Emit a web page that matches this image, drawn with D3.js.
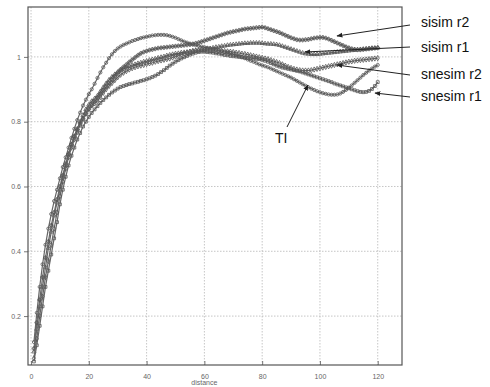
<!DOCTYPE html>
<html>
<head>
<meta charset="utf-8">
<script src="https://cdn.jsdelivr.net/npm/d3@7"></script>
<style>
  html, body { margin: 0; padding: 0; background: #fff; }
  svg { display: block; font-family: "Liberation Sans", Arial, sans-serif; }
</style>
</head>
<body>
<div id="chart"></div>
<script>
// lag distances
const lags = [1,2,3,4,5,6,7,8,9,10,11,12,13,14,15,16,17,18,19,20,
  21,22,23,24,25,26,27,28,29,30,31,32,33,34,35,36,37,38,39,40,
  41,42,43,44,45,46,47,48,49,50,51,52,53,54,55,56,57,58,59,60,
  61,62,63,64,65,66,67,68,69,70,71,72,73,74,75,76,77,78,79,80,
  81,82,83,84,85,86,87,88,89,90,91,92,93,94,95,96,97,98,99,100,
  101,102,103,104,105,106,107,108,109,110,111,112,113,114,115,116,117,118,119,120];

const ti = [0.12,0.21,0.29,0.36,0.42,0.47,0.515,0.555,0.59,0.625,0.66,0.69,0.72,0.75,0.778,0.805,0.828,0.85,0.868,0.885,
  0.90,0.917,0.935,0.952,0.968,0.982,0.996,1.008,1.018,1.026,1.032,1.037,1.041,1.045,1.049,1.052,1.055,1.058,1.06,1.062,
  1.064,1.066,1.067,1.068,1.068,1.068,1.067,1.065,1.062,1.059,1.055,1.051,1.047,1.044,1.041,1.038,1.036,1.034,1.032,1.03,
  1.028,1.026,1.024,1.022,1.02,1.018,1.015,1.013,1.011,1.008,1.005,1.002,0.999,0.996,0.992,0.988,0.985,0.981,0.977,0.974,
  0.971,0.968,0.964,0.96,0.956,0.952,0.948,0.944,0.94,0.936,0.931,0.926,0.921,0.916,0.911,0.906,0.902,0.898,0.894,0.891,
  0.888,0.886,0.884,0.883,0.883,0.884,0.887,0.892,0.898,0.905,0.912,0.92,0.928,0.936,0.944,0.951,0.958,0.964,0.97,0.975];

const sisimR2 = [0.10,0.18,0.25,0.32,0.38,0.43,0.48,0.52,0.56,0.60,0.635,0.67,0.70,0.73,0.755,0.775,0.795,0.81,0.825,0.838,
  0.85,0.862,0.874,0.886,0.897,0.908,0.919,0.93,0.941,0.951,0.961,0.969,0.976,0.984,0.991,0.998,1.005,1.011,1.015,1.018,
  1.021,1.023,1.025,1.027,1.028,1.029,1.03,1.031,1.032,1.033,1.034,1.035,1.036,1.037,1.038,1.04,1.042,1.044,1.047,1.05,
  1.053,1.056,1.059,1.062,1.065,1.068,1.071,1.074,1.076,1.078,1.08,1.082,1.084,1.086,1.087,1.088,1.089,1.09,1.091,1.092,
  1.09,1.087,1.084,1.081,1.078,1.075,1.071,1.067,1.063,1.059,1.056,1.053,1.052,1.052,1.053,1.054,1.056,1.058,1.059,1.06,
  1.06,1.058,1.055,1.051,1.047,1.043,1.039,1.035,1.031,1.028,1.025,1.023,1.022,1.022,1.023,1.024,1.025,1.026,1.027,1.028];

const sisimR1 = [0.09,0.16,0.23,0.29,0.35,0.41,0.46,0.51,0.55,0.59,0.63,0.665,0.70,0.73,0.755,0.778,0.80,0.82,0.838,0.852,
  0.863,0.871,0.88,0.893,0.906,0.918,0.929,0.938,0.946,0.953,0.959,0.963,0.967,0.971,0.975,0.977,0.98,0.982,0.985,0.987,
  0.99,0.992,0.994,0.997,0.999,1.001,1.004,1.006,1.008,1.01,1.011,1.013,1.014,1.015,1.016,1.018,1.019,1.02,1.022,1.023,
  1.025,1.026,1.028,1.03,1.031,1.033,1.034,1.036,1.037,1.038,1.039,1.04,1.041,1.042,1.042,1.043,1.043,1.043,1.043,1.042,
  1.041,1.04,1.04,1.039,1.038,1.036,1.033,1.03,1.027,1.024,1.021,1.018,1.015,1.012,1.01,1.009,1.008,1.008,1.008,1.009,
  1.01,1.011,1.012,1.013,1.014,1.015,1.016,1.017,1.018,1.019,1.02,1.021,1.022,1.023,1.024,1.025,1.026,1.027,1.027,1.028];

const snesimR2 = [0.07,0.13,0.20,0.26,0.32,0.37,0.42,0.47,0.52,0.57,0.615,0.655,0.69,0.72,0.745,0.768,0.79,0.808,0.825,0.84,
  0.85,0.857,0.864,0.876,0.889,0.9,0.91,0.919,0.928,0.937,0.945,0.951,0.956,0.961,0.965,0.968,0.971,0.973,0.975,0.978,
  0.98,0.982,0.985,0.987,0.989,0.991,0.993,0.995,0.998,1.001,1.004,1.007,1.01,1.013,1.016,1.018,1.02,1.021,1.022,1.022,
  1.022,1.022,1.021,1.021,1.02,1.019,1.018,1.017,1.016,1.015,1.013,1.012,1.01,1.009,1.007,1.005,1.003,1.001,0.999,0.997,
  0.995,0.993,0.99,0.987,0.984,0.981,0.977,0.973,0.969,0.966,0.963,0.961,0.959,0.958,0.958,0.958,0.959,0.961,0.963,0.965,
  0.967,0.969,0.971,0.973,0.975,0.977,0.979,0.981,0.983,0.985,0.986,0.988,0.989,0.99,0.991,0.992,0.993,0.994,0.995,0.996];

const snesimR1 = [0.06,0.11,0.17,0.23,0.29,0.34,0.39,0.44,0.49,0.545,0.59,0.63,0.665,0.695,0.72,0.745,0.765,0.785,0.80,0.815,
  0.827,0.838,0.848,0.858,0.867,0.875,0.883,0.89,0.896,0.902,0.907,0.91,0.913,0.916,0.918,0.921,0.923,0.926,0.928,0.931,
  0.934,0.938,0.942,0.947,0.953,0.959,0.966,0.973,0.979,0.985,0.99,0.995,0.999,1.003,1.007,1.01,1.013,1.015,1.016,1.016,
  1.015,1.014,1.013,1.011,1.01,1.008,1.006,1.005,1.003,1.002,1.001,1.0,0.999,0.998,0.997,0.996,0.995,0.994,0.993,0.991,
  0.988,0.985,0.981,0.977,0.973,0.97,0.967,0.965,0.963,0.961,0.959,0.957,0.955,0.952,0.949,0.946,0.943,0.94,0.937,0.934,
  0.931,0.928,0.925,0.922,0.918,0.915,0.912,0.909,0.906,0.903,0.9,0.897,0.894,0.892,0.891,0.892,0.895,0.901,0.91,0.922];

const xTicks = [0, 20, 40, 60, 80, 100, 120];
const yTicks = [0.2, 0.4, 0.6, 0.8, 1];

const W = 490, H = 387;
const margin = { top: 7, right: 88, bottom: 22, left: 28 };
const width = W - margin.left - margin.right,
  height = H - margin.top - margin.bottom;

const svg = d3.select("#chart").append("svg")
  .attr("width", W)
  .attr("height", H);

const g = svg.append("g")
  .attr("transform", "translate(" + margin.left + "," + margin.top + ")");

const x = d3.scaleLinear().domain([-1.05, 128.4]).range([0, width]);
const y = d3.scaleLinear().domain([0.049, 1.154]).range([height, 0]);

// grid
g.append("g").selectAll("line")
  .data(xTicks).enter().append("line")
  .attr("x1", d => x(d)).attr("x2", d => x(d))
  .attr("y1", 0).attr("y2", height)
  .attr("stroke", "#b8b8b8").attr("stroke-width", 0.8)
  .attr("stroke-dasharray", "1.5,1.5");
g.append("g").selectAll("line")
  .data(yTicks).enter().append("line")
  .attr("x1", 0).attr("x2", width)
  .attr("y1", d => y(d)).attr("y2", d => y(d))
  .attr("stroke", "#b8b8b8").attr("stroke-width", 0.8)
  .attr("stroke-dasharray", "1.5,1.5");

// axes
const xMinor = d3.range(0, 126, 5);
const yMinor = d3.range(0.05, 1.151, 0.05);

const xAxis = g.append("g").attr("transform", `translate(0,${height})`);
xAxis.call(d3.axisBottom(x).tickValues(xMinor).tickSize(-3).tickFormat(""));
xAxis.call(d3.axisBottom(x).tickValues(xTicks).tickSize(-4).tickPadding(9).tickFormat(d3.format("d")));
xAxis.selectAll(".domain").remove();

const yAxis = g.append("g");
yAxis.call(d3.axisLeft(y).tickValues(yMinor).tickSize(2).tickFormat(""));
yAxis.call(d3.axisLeft(y).tickValues(yTicks).tickSize(4).tickPadding(3).tickFormat(d => d === 1 ? "1" : d3.format(".1f")(d)));
yAxis.selectAll(".domain").remove();

svg.selectAll(".tick line").attr("stroke", "#555").attr("stroke-width", 0.8);
svg.selectAll(".tick text").attr("fill", "#666").attr("font-size", 7);

g.append("text")
  .attr("x", x(60)).attr("y", height + 20)
  .attr("text-anchor", "middle")
  .attr("font-size", 7).attr("fill", "#666")
  .text("distance");

// frame
g.append("rect")
  .attr("x", 0).attr("y", 0)
  .attr("width", width).attr("height", height)
  .attr("fill", "none").attr("stroke", "#555").attr("stroke-width", 1.2);

// curves
const allSeries = [ti, sisimR1, sisimR2, snesimR1, snesimR2];
const symbols = [d3.symbolCircle, d3.symbolTriangle, d3.symbolCross, d3.symbolSquare, d3.symbolDiamond];

const line = d3.line()
  .x((d, i) => x(lags[i]))
  .y(d => y(d));

allSeries.forEach(function (vals, k) {
  g.append("path")
    .datum(vals)
    .attr("d", line)
    .attr("fill", "none")
    .attr("stroke", "#666")
    .attr("stroke-width", 1.2);

  g.append("g").selectAll("path")
    .data(vals).enter().append("path")
    .attr("transform", (d, i) => `translate(${x(lags[i])},${y(d)})`)
    .attr("d", d3.symbol().type(symbols[k]).size(8))
    .attr("fill", "none")
    .attr("stroke", "#555")
    .attr("stroke-width", 0.8);
});

// annotations
svg.append("defs").append("marker")
  .attr("id", "arr")
  .attr("viewBox", "0 0 10 10")
  .attr("refX", 9).attr("refY", 5)
  .attr("markerWidth", 6).attr("markerHeight", 6)
  .attr("orient", "auto")
  .append("path").attr("d", "M0,1L10,5L0,9z").attr("fill", "#222");

const labels = [
  { name: "sisim r2", tx: 421, ty: 27, from: [410, 25], to: [337, 36] },
  { name: "sisim r1", tx: 421, ty: 52, from: [410, 47], to: [305, 52] },
  { name: "snesim r2", tx: 421, ty: 79, from: [410, 75], to: [337, 65] },
  { name: "snesim r1", tx: 421, ty: 101, from: [410, 97], to: [375, 93] },
  { name: "TI", tx: 275, ty: 143, from: [287, 127], to: [308, 85] }
];

svg.selectAll(".arrow")
  .data(labels).enter().append("line")
  .attr("class", "arrow")
  .attr("x1", d => d.from[0]).attr("y1", d => d.from[1])
  .attr("x2", d => d.to[0]).attr("y2", d => d.to[1])
  .attr("stroke", "#222").attr("stroke-width", 1)
  .attr("marker-end", "url(#arr)");

svg.selectAll(".lbl")
  .data(labels).enter().append("text")
  .attr("class", "lbl")
  .attr("x", d => d.tx).attr("y", d => d.ty)
  .attr("font-size", 14).attr("fill", "#111")
  .text(d => d.name);
</script>
</body>
</html>
